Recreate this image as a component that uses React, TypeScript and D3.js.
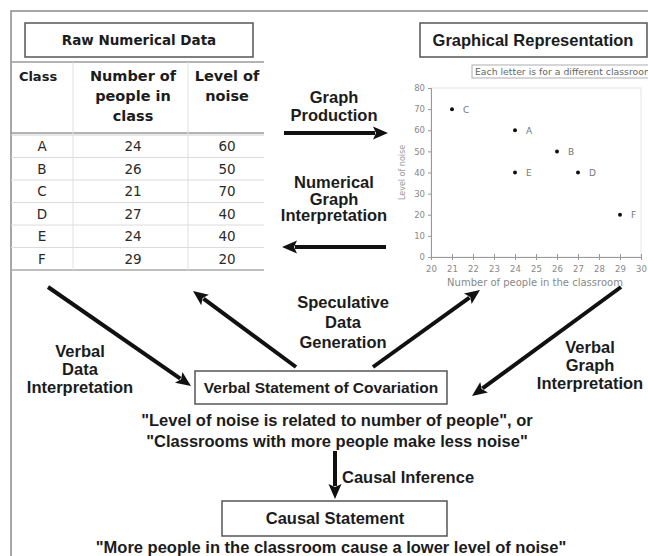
import { useEffect, useRef } from "react";
import * as d3 from "d3";

// Table / scatter data
const classes = ["A", "B", "C", "D", "E", "F"];
const people = [24, 26, 21, 27, 24, 29];
const noise = [60, 50, 70, 40, 40, 20];

// Axis ticks
const xTicks = [20, 21, 22, 23, 24, 25, 26, 27, 28, 29, 30];
const yTicks = [0, 10, 20, 30, 40, 50, 60, 70, 80];

// Column headers of the table
const headClass = ["Class"];
const headPeople = ["Number of", "people in", "class"];
const headNoise = ["Level of", "noise"];

const quotesCovariation = [
    "\"Level of noise is related to number of people\", or",
    "\"Classrooms with more people make less noise\"",
];
const quoteCausal = "\"More people in the classroom cause a lower level of noise\"";

const BOLD = "'Liberation Sans', Arial, sans-serif";
const GEO = "'DejaVu Sans', sans-serif";

export default function App() {
    const svgRef = useRef<SVGSVGElement | null>(null);

    useEffect(() => {
        const width = 648;
        const height = 556;
        const svg = d3.select(svgRef.current)
            .attr("width", width)
            .attr("height", height)
            .attr("viewBox", [0, 0, width, height].join(" "));
        svg.selectAll("*").remove();

        svg.append("rect").attr("width", width).attr("height", height).attr("fill", "#fff");

        // outer frame (runs off the right and bottom)
        svg.append("rect")
            .attr("x", 11).attr("y", 11)
            .attr("width", 660).attr("height", 580)
            .attr("fill", "none").attr("stroke", "#8a8a8a").attr("stroke-width", 1.5);

        const label = (x: number, y: number, lines: string[], size: number, gap: number, anchor = "middle") => {
            const t = svg.append("text")
                .attr("font-family", BOLD)
                .attr("font-weight", "bold")
                .attr("font-size", size)
                .attr("fill", "#1c1c1c")
                .attr("text-anchor", anchor);
            lines.forEach((l, i) => {
                t.append("tspan").attr("x", x).attr("y", y + i * gap).text(l);
            });
            return t;
        };

        const box = (x: number, y: number, w: number, h: number) =>
            svg.append("rect")
                .attr("x", x).attr("y", y).attr("width", w).attr("height", h)
                .attr("fill", "#fff").attr("stroke", "#555").attr("stroke-width", 1.5);

        // arrow: thick shaft with a filled triangular head at (x2, y2)
        const arrow = (x1: number, y1: number, x2: number, y2: number) => {
            const headLen = 15;
            const headW = 13;
            const dx = x2 - x1, dy = y2 - y1;
            const len = Math.hypot(dx, dy);
            const ux = dx / len, uy = dy / len;
            const bx = x2 - ux * headLen, by = y2 - uy * headLen;
            svg.append("line")
                .attr("x1", x1).attr("y1", y1).attr("x2", bx + ux * 2).attr("y2", by + uy * 2)
                .attr("stroke", "#111").attr("stroke-width", 4);
            svg.append("path")
                .attr("d", `M${x2},${y2}L${bx - uy * headW / 2},${by + ux * headW / 2}L${bx + ux * 3},${by + uy * 3}L${bx + uy * headW / 2},${by - ux * headW / 2}Z`)
                .attr("fill", "#111");
        };

        // ---------- Raw numerical data table ----------
        box(25, 23, 228, 34);
        svg.append("text")
            .attr("x", 139).attr("y", 45)
            .attr("text-anchor", "middle")
            .attr("font-family", GEO).attr("font-weight", "bold")
            .attr("font-size", 13.5).attr("fill", "#1c1c1c")
            .text("Raw Numerical Data");

        const colX = [42, 133, 227];
        const rowY = d3.scaleBand<string>().domain(classes).range([135, 270]);

        const hline = (y: number, c: string, w: number) =>
            svg.append("line").attr("x1", 11).attr("x2", 264).attr("y1", y).attr("y2", y)
                .attr("stroke", c).attr("stroke-width", w);
        hline(62, "#9a9a9a", 1.5);
        hline(133, "#9a9a9a", 1.5);
        hline(135, "#cfcfcf", 1);
        classes.slice(1).forEach(c => hline(rowY(c)!, "#dcdcdc", 1));
        hline(270, "#aaaaaa", 1.5);
        [73, 188].forEach(x =>
            svg.append("line").attr("x1", x).attr("x2", x).attr("y1", 62).attr("y2", 270)
                .attr("stroke", "#e0e0e0").attr("stroke-width", 1));

        const headText = (x: number, lines: string[], size: number) => {
            const t = svg.append("text")
                .attr("font-family", GEO).attr("font-weight", "bold")
                .attr("font-size", size).attr("fill", "#1c1c1c").attr("text-anchor", "middle");
            lines.forEach((l, i) => t.append("tspan").attr("x", x).attr("y", 81 + i * 20).text(l));
        };
        headText(38, headClass, 13);
        headText(colX[1], headPeople, 14.5);
        headText(colX[2], headNoise, 14.5);

        const rows = classes.map((c, i) => ({ c, p: people[i], n: noise[i] }));
        const rowG = svg.append("g")
            .attr("font-family", GEO).attr("font-size", 13.5).attr("fill", "#2a2a2a")
            .attr("text-anchor", "middle");
        rows.forEach(r => {
            const y = rowY(r.c)! + rowY.bandwidth() / 2 + 5;
            rowG.append("text").attr("x", colX[0]).attr("y", y).text(r.c);
            rowG.append("text").attr("x", colX[1]).attr("y", y).text(r.p);
            rowG.append("text").attr("x", colX[2]).attr("y", y).text(r.n);
        });

        // ---------- Graphical representation ----------
        box(420, 23, 227, 34);
        label(533, 46, ["Graphical Representation"], 16.5, 0);

        svg.append("rect")
            .attr("x", 472).attr("y", 65).attr("width", 190).attr("height", 13)
            .attr("fill", "#fff").attr("stroke", "#999").attr("stroke-width", 0.8);
        svg.append("text")
            .attr("x", 475).attr("y", 75)
            .attr("font-family", GEO).attr("font-size", 8.5).attr("fill", "#666")
            .attr("textLength", 178).attr("lengthAdjust", "spacingAndGlyphs")
            .text("Each letter is for a different classroom");

        const x = d3.scaleLinear().domain([20, 30]).range([431, 641]);
        const y = d3.scaleLinear().domain([0, 80]).range([257, 88]);

        svg.append("rect")
            .attr("x", x(20)).attr("y", y(80))
            .attr("width", x(30) - x(20)).attr("height", y(0) - y(80))
            .attr("fill", "none").attr("stroke", "#e6e6e6");

        const gx = svg.append("g")
            .attr("transform", `translate(0,${y(0)})`)
            .call(d3.axisBottom(x).tickValues(xTicks).tickSize(3).tickPadding(6));
        gx.selectAll(".tick line").attr("y1", -3).attr("stroke", "#999");
        gx.select(".domain").attr("stroke", "#999");
        gx.selectAll(".tick text").attr("font-family", GEO).attr("font-size", 8.5).attr("fill", "#888");

        const gy = svg.append("g")
            .attr("transform", `translate(${x(20)},0)`)
            .call(d3.axisLeft(y).tickValues(yTicks).tickSize(3).tickPadding(3));
        gy.selectAll(".tick line").attr("stroke", "#999");
        gy.select(".domain").attr("stroke", "#999");
        gy.selectAll(".tick text").attr("font-family", GEO).attr("font-size", 8.5).attr("fill", "#888");

        svg.append("text")
            .attr("x", 535).attr("y", 286)
            .attr("text-anchor", "middle")
            .attr("font-family", GEO).attr("font-size", 10).attr("fill", "#888")
            .text("Number of people in the classroom");
        svg.append("text")
            .attr("transform", `translate(405,${(y(0) + y(80)) / 2}) rotate(-90)`)
            .attr("text-anchor", "middle")
            .attr("font-family", GEO).attr("font-size", 8).attr("fill", "#999")
            .text("Level of noise");

        const pts = svg.append("g");
        rows.forEach(r => {
            pts.append("circle").attr("cx", x(r.p)).attr("cy", y(r.n)).attr("r", 2).attr("fill", "#111");
            pts.append("text")
                .attr("x", x(r.p) + 11).attr("y", y(r.n) + 3.5)
                .attr("font-family", GEO).attr("font-size", 9).attr("fill", "#777")
                .text(r.c);
        });

        // ---------- arrows between table and graph ----------
        label(334, 103, ["Graph", "Production"], 16.5, 17.5);
        arrow(284, 133, 388, 133);
        label(334, 188, ["Numerical", "Graph", "Interpretation"], 16.5, 16.5);
        arrow(386, 247, 282, 247);

        // ---------- lower part ----------
        label(80, 357, ["Verbal", "Data", "Interpretation"], 16.5, 18);
        arrow(48, 287, 191, 386);
        label(343, 308, ["Speculative", "Data", "Generation"], 16.5, 20);
        arrow(296, 367, 193, 291);
        arrow(373, 367, 480, 290);
        label(590, 353, ["Verbal", "Graph", "Interpretation"], 16.5, 18);
        arrow(621, 287, 472, 396);

        box(195, 371, 252, 33);
        label(321, 393, ["Verbal Statement of Covariation"], 15.5, 0);

        label(337, 426, quotesCovariation, 16.5, 21);

        arrow(335, 451, 335, 499);
        label(342, 483, ["Causal Inference"], 16.5, 0, "start");

        box(222, 501, 225, 35);
        label(335, 524, ["Causal Statement"], 16.5, 0);

        label(331, 553, [quoteCausal], 16.5, 0);
    }, []);

    return (
        <div style={{ position: "absolute", left: 0, top: 0 }}>
            <svg ref={svgRef} style={{ display: "block" }} />
        </div>
    );
}
